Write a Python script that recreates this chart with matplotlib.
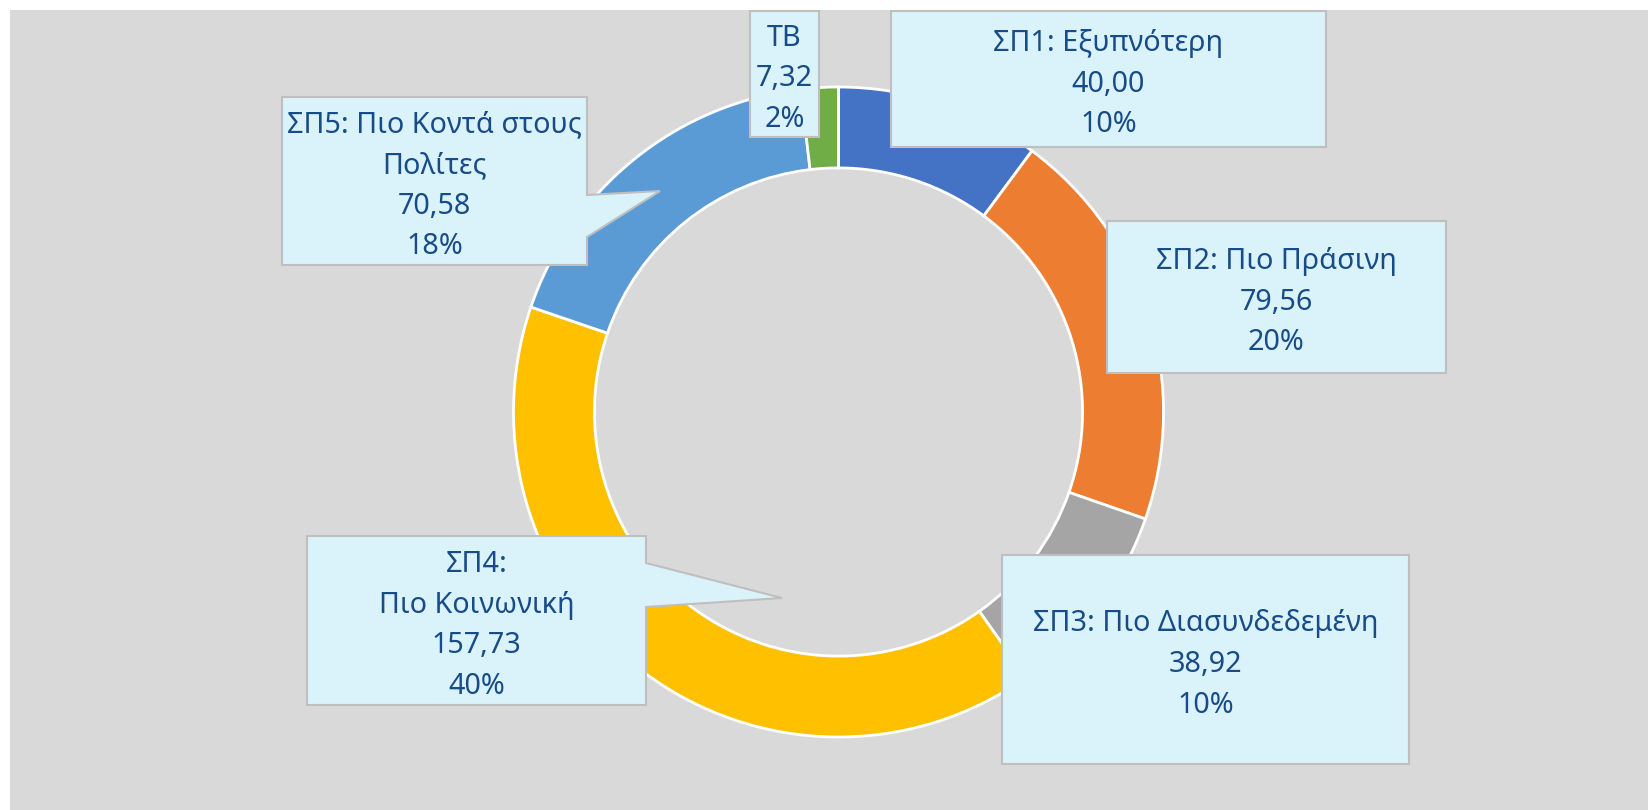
import numpy as np
import matplotlib
matplotlib.use('Agg')
import matplotlib.pyplot as plt
from matplotlib.patches import Polygon, Rectangle

# data, clockwise from the top
names = ['ΣΠ1: Εξυπνότερη', 'ΣΠ2: Πιο Πράσινη', 'ΣΠ3: Πιο Διασυνδεδεμένη',
         'ΣΠ4:\nΠιο Κοινωνική', 'ΣΠ5: Πιο Κοντά στους\nΠολίτες', 'ΤΒ']
values = [40.00, 79.56, 38.92, 157.73, 70.58, 7.32]
colors = ['#4472C4', '#ED7D31', '#A5A5A5', '#FFC000', '#5B9BD5', '#70AD47']

W, H = 1648, 810
txt_color = '#174C88'
box_fill = '#DAF2FA'
box_edge = '#BFBFBF'

# label boxes in pixel coords (left, top, right, bottom), y measured from the top
boxes = [(891, 11, 1326, 147), (1107, 221, 1446, 373), (1002, 555, 1409, 764),
         (307, 536, 646, 705), (282, 97, 587, 265), (750, 11, 819, 137)]
# callout pointers: (base top, base bottom, tip x, tip y) on the right edge
pointers = {3: (563, 607, 782, 598), 4: (195, 237, 660, 191)}

fig = plt.figure(figsize=(W / 100, H / 100), dpi=100)
fig.patch.set_facecolor('white')
ax = fig.add_axes([0, 0, 1, 1])

ax.add_patch(Rectangle((10, 0), W - 10, H - 10, facecolor='#D9D9D9', edgecolor='none', zorder=0))

cx, cy, r = 838.5, H - 412, 325
ax.pie(values, colors=colors, startangle=90, counterclock=False, center=(cx, cy),
       radius=r, frame=True,
       wedgeprops=dict(width=r * 0.249, edgecolor='white', linewidth=2.0))
ax.set_xlim(0, W)
ax.set_ylim(0, H)
ax.axis('off')

total = sum(values)
for i, (name, v) in enumerate(zip(names, values)):
  l, t, rr, b = boxes[i]
  t, b = H - t, H - b
  if i in pointers:
    p0, p1, tx, ty = pointers[i]
    pts = [(l, t), (rr, t), (rr, H - p0), (tx, H - ty), (rr, H - p1), (rr, b), (l, b)]
  else:
    pts = [(l, t), (rr, t), (rr, b), (l, b)]
  ax.add_patch(Polygon(pts, closed=True, facecolor=box_fill, edgecolor=box_edge,
                       linewidth=1.5, zorder=5))
  label = f"{name}\n{v:.2f}".replace('.', ',') + f"\n{round(v / total * 100)}%"
  # text sits a little below the box centre, like in the original
  ax.text((l + rr) / 2, (t + b) / 2 - 5, label, ha='center', va='center',
          fontsize=20.7, family='Noto Sans', color=txt_color,
          linespacing=1.53, zorder=6)

fig.savefig('out.png', dpi=100, facecolor='white')
